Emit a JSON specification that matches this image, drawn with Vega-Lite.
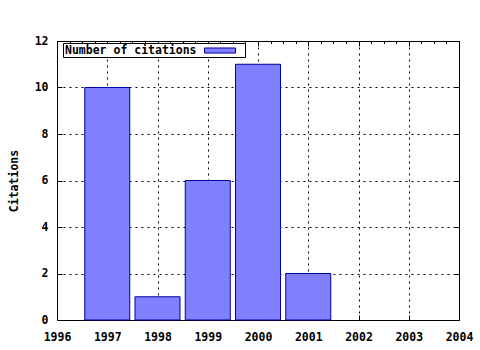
{
  "$schema": "https://vega.github.io/schema/vega-lite/v6.json",
  "width": 402,
  "height": 279,
  "autosize": {"type": "none"},
  "padding": {"left": 57, "top": 41, "right": 21, "bottom": 30},
  "background": "white",
  "config": {
    "view": {"stroke": "black", "strokeWidth": 1},
    "font": "DejaVu Sans Mono",
    "axis": {
      "labelFont": "DejaVu Sans Mono",
      "labelFontWeight": "bold",
      "labelFontSize": 11.5,
      "labelColor": "black",
      "tickColor": "black",
      "titleFont": "DejaVu Sans Mono",
      "titleFontWeight": "bold",
      "titleFontSize": 11.5,
      "titleColor": "black",
      "domain": false
    },
    "legend": {
      "labelFont": "DejaVu Sans Mono",
      "labelFontWeight": "bold",
      "labelFontSize": 11.5,
      "labelColor": "black"
    }
  },
  "data": {
    "values": [
      {"year": 1997, "citations": 10},
      {"year": 1998, "citations": 1},
      {"year": 1999, "citations": 6},
      {"year": 2000, "citations": 11},
      {"year": 2001, "citations": 2}
    ]
  },
  "layer": [
    {
      "mark": {"type": "bar", "width": 45, "stroke": "#0000a0", "strokeWidth": 1, "opacity": 1},
      "encoding": {
        "x": {
          "field": "year",
          "type": "quantitative",
          "scale": {"domain": [1996, 2004], "nice": false, "zero": false, "padding": 0},
          "axis": {
            "orient": "bottom",
            "title": null,
            "values": [1996, 1996.25, 1996.5, 1996.75, 1997, 1997.25, 1997.5, 1997.75, 1998, 1998.25, 1998.5, 1998.75, 1999, 1999.25, 1999.5, 1999.75, 2000, 2000.25, 2000.5, 2000.75, 2001, 2001.25, 2001.5, 2001.75, 2002, 2002.25, 2002.5, 2002.75, 2003, 2003.25, 2003.5, 2003.75, 2004],
            "format": "d",
            "labelExpr": "datum.value % 1 === 0 ? datum.label : ''",
            "labelFlush": false,
            "labelOverlap": false,
            "labelPadding": 16,
            "tickSize": {"condition": {"test": "datum.value % 1 === 0", "value": -5}, "value": -2.5},
            "grid": true,
            "gridColor": "black",
            "gridDash": [2, 4],
            "gridOpacity": {"condition": {"test": "datum.value % 1 === 0 && datum.value > 1996 && datum.value < 2004", "value": 1}, "value": 0}
          }
        },
        "y": {
          "field": "citations",
          "type": "quantitative",
          "scale": {"domain": [0, 12], "nice": false, "padding": 0},
          "axis": {
            "orient": "left",
            "title": "Citations",
            "titleX": -42.5,
            "titleY": 139.5,
            "titleBaseline": "middle",
            "titleAngle": 270,
            "values": [0, 2, 4, 6, 8, 10, 12],
            "format": "d",
            "labelPadding": 14,
            "tickSize": -5,
            "grid": true,
            "gridColor": "black",
            "gridDash": [2, 4],
            "gridOpacity": {"condition": {"test": "datum.value > 0 && datum.value < 12", "value": 1}, "value": 0}
          }
        },
        "color": {
          "datum": "Number of citations",
          "type": "nominal",
          "scale": {"range": ["#8080ff"]},
          "legend": {
            "title": null,
            "orient": "none",
            "legendX": 6,
            "legendY": 2,
            "padding": 1,
            "strokeColor": "black",
            "fillColor": "white",
            "symbolType": "M-1,-0.42H4.17V0.42H-1Z M5.2,0",
            "symbolSize": 144,
            "symbolOffset": 140,
            "labelOffset": -152,
            "symbolStrokeColor": "#0000a0",
            "symbolStrokeWidth": 1,
            "symbolOpacity": 1,
            "symbolFillColor": "#8080ff"
          }
        }
      }
    },
    {
      "mark": {"type": "bar", "width": 45, "opacity": 0},
      "encoding": {
        "x": {
          "field": "year",
          "type": "quantitative",
          "axis": {
            "orient": "top",
            "title": null,
            "labels": false,
            "grid": false,
            "values": [1996, 1996.25, 1996.5, 1996.75, 1997, 1997.25, 1997.5, 1997.75, 1998, 1998.25, 1998.5, 1998.75, 1999, 1999.25, 1999.5, 1999.75, 2000, 2000.25, 2000.5, 2000.75, 2001, 2001.25, 2001.5, 2001.75, 2002, 2002.25, 2002.5, 2002.75, 2003, 2003.25, 2003.5, 2003.75, 2004],
            "tickSize": {"condition": {"test": "datum.value % 1 === 0", "value": -5}, "value": -2.5}
          }
        },
        "y": {
          "field": "citations",
          "type": "quantitative",
          "axis": {
            "orient": "right",
            "title": null,
            "labels": false,
            "grid": false,
            "values": [0, 2, 4, 6, 8, 10, 12],
            "tickSize": -5
          }
        }
      }
    }
  ],
  "resolve": {"axis": {"x": "independent", "y": "independent"}}
}
